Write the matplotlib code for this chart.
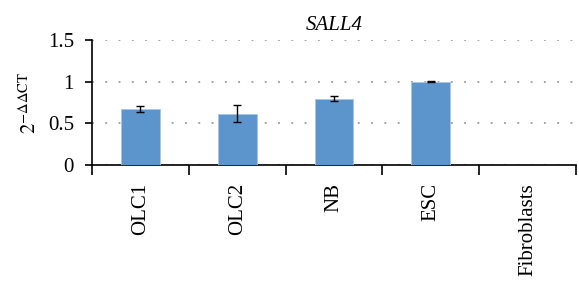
import matplotlib
matplotlib.use('Agg')
import matplotlib.pyplot as plt
import numpy as np

plt.rcParams['font.family'] = ['Liberation Serif', 'DejaVu Serif']
plt.rcParams['mathtext.fontset'] = 'stix'

# Data
categories = ['OLC1', 'OLC2', 'NB', 'ESC', 'Fibroblasts']
values = [0.675, 0.615, 0.795, 1.0, 0.0]
errors = [0.035, 0.10, 0.032, 0.004, 0.0]
yticks = [0, 0.5, 1, 1.5]
ytick_labels = ['0', '0.5', '1', '1.5']

fig = plt.figure(figsize=(5.79, 2.83), dpi=100)
ax = fig.add_axes([92 / 579, 1 - 165 / 283, (576 - 92) / 579, (165 - 40) / 283])

x = np.arange(len(categories))
bar_color = '#5b95cc'
ax.bar(x[:4], values[:4], width=0.4, color=bar_color, edgecolor='#a8c6e6',
       linewidth=0.6, zorder=3)
ax.errorbar(x[:4], values[:4], yerr=errors[:4], fmt='none', ecolor='black',
            elinewidth=1.0, capsize=2.8, capthick=1.0, zorder=4)

ax.set_xlim(-0.5, len(categories) - 0.5)
ax.set_ylim(0, 1.5)
ax.set_yticks(yticks)
ax.set_yticklabels(ytick_labels, fontsize=15)

ax.set_xticks(x)
ax.set_xticklabels(categories, rotation=90, fontsize=15, va='top')
ax.set_xticks(np.arange(-0.5, len(categories)), minor=True)
ax.tick_params(axis='x', which='major', length=0, pad=13)
ax.tick_params(axis='x', which='minor', length=7, width=1.2, direction='out')
ax.tick_params(axis='y', length=5, width=1.2, direction='out', pad=8)

for sp in ['top', 'right']:
    ax.spines[sp].set_visible(False)
ax.spines['left'].set_linewidth(1.2)
ax.spines['bottom'].set_linewidth(1.2)

ax.grid(axis='y', linestyle=(0, (1.2, 7.5)), color='#8a8a8a', linewidth=1.1, zorder=0)
ax.set_axisbelow(True)

ax.set_ylabel(r'$2^{-\Delta\Delta\mathrm{CT}}$', fontsize=15, labelpad=5)
ax.set_title('SALL4', fontsize=15, style='italic', pad=7)

fig.savefig('out.png', dpi=100)
